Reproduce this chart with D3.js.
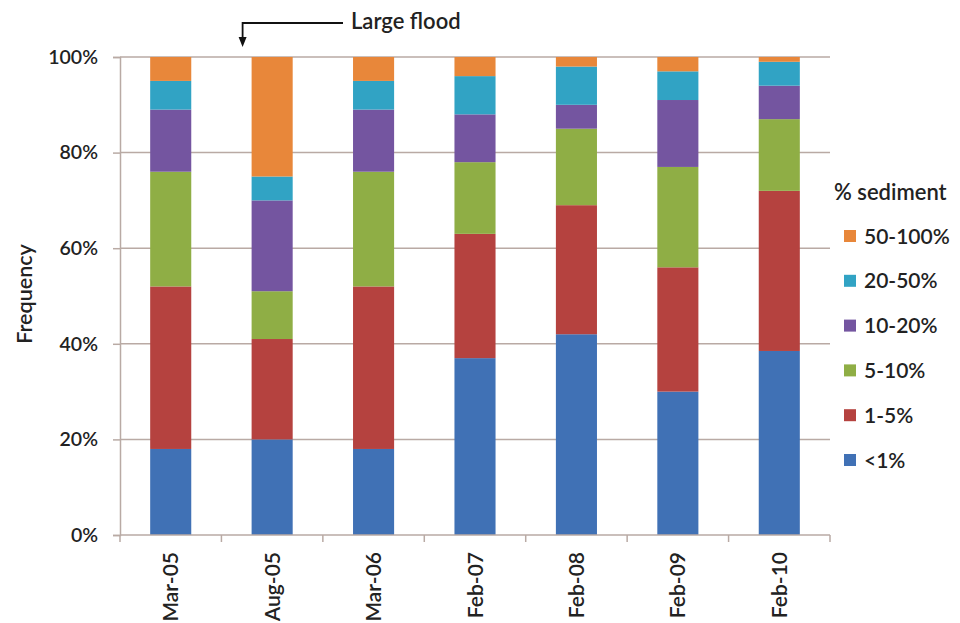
<!DOCTYPE html>
<html>
<head>
<meta charset="utf-8">
<script src="https://cdn.jsdelivr.net/npm/d3@7"></script>
<style>
  html, body { margin: 0; padding: 0; background: #fff; }
  svg { display: block; }
  text { font-family: Lato, "Open Sans", sans-serif; fill: #222; }
</style>
</head>
<body>
<svg id="chart" width="960" height="623"></svg>
<script>
// ---- Data ----
const categories = ["Mar-05", "Aug-05", "Mar-06", "Feb-07", "Feb-08", "Feb-09", "Feb-10"];
const seriesNames = ["<1%", "1-5%", "5-10%", "10-20%", "20-50%", "50-100%"];
const lt1      = [18, 20, 18, 37, 42, 30, 38.5];
const p1to5    = [34, 21, 34, 26, 27, 26, 33.5];
const p5to10   = [24, 10, 24, 15, 16, 21, 15];
const p10to20  = [13, 19, 13, 10, 5, 14, 7];
const p20to50  = [6, 5, 6, 8, 8, 6, 5];
const p50to100 = [5, 25, 5, 4, 2, 3, 1];
const seriesValues = [lt1, p1to5, p5to10, p10to20, p20to50, p50to100];
const seriesColors = ["#4071B5", "#B5423F", "#8FAE45", "#7455A0", "#31A3C4", "#E8873A"];
const yTicks = [0, 20, 40, 60, 80, 100];
const legendTitle = "% sediment";
const yTitle = "Frequency";
const annotation = "Large flood";

// ---- Layout ----
const svg = d3.select("#chart");
const pLeft = 120, pRight = 830, pTop = 57, pBottom = 535;

const x = d3.scaleBand().domain(categories).range([pLeft, pRight]).paddingInner(0.595).paddingOuter(0.2975);
const y = d3.scaleLinear().domain([0, 100]).range([pBottom, pTop]);

// Build table for stack
const table = categories.map((c, i) => {
  const row = { cat: c };
  seriesNames.forEach((s, j) => row[s] = seriesValues[j][i]);
  return row;
});
const stacked = d3.stack().keys(seriesNames)(table);

// gridlines
svg.append("g").selectAll("line").data(yTicks.filter(t => t > 0)).join("line")
  .attr("x1", pLeft).attr("x2", pRight)
  .attr("y1", d => y(d)).attr("y2", d => y(d))
  .attr("stroke", "#B9AAA4").attr("stroke-width", 1.5);

// bars
const color = d3.scaleOrdinal().domain(seriesNames).range(seriesColors);
svg.append("g").selectAll("g").data(stacked).join("g")
  .attr("fill", d => color(d.key))
  .selectAll("rect").data(d => d).join("rect")
  .attr("x", d => x(d.data.cat))
  .attr("width", x.bandwidth())
  .attr("y", d => y(d[1]))
  .attr("height", d => y(d[0]) - y(d[1]));

// y axis
const yAxis = d3.axisLeft(y).tickValues(yTicks).tickFormat(d => d + "%").tickSize(7).tickPadding(15);
const gy = svg.append("g").attr("transform", `translate(${pLeft},0)`).call(yAxis);
gy.select(".domain").attr("stroke", "#B9AAA4").attr("stroke-width", 1.5);
gy.selectAll(".tick line").attr("stroke", "#B9AAA4").attr("stroke-width", 1.5);
gy.selectAll(".tick text").style("font-size", "19.5px").style("font-weight", "600").attr("fill", "#222");

// x axis
const gx = svg.append("g").attr("transform", `translate(0,${pBottom})`);
gx.append("line").attr("x1", pLeft).attr("x2", pRight).attr("y1", 0).attr("y2", 0)
  .attr("stroke", "#B9AAA4").attr("stroke-width", 1.5);
const boundaries = d3.range(categories.length + 1).map(i => pLeft + i * (pRight - pLeft) / categories.length);
gx.selectAll("line.tk").data(boundaries).join("line").attr("class", "tk")
  .attr("x1", d => d).attr("x2", d => d).attr("y1", 0).attr("y2", 7)
  .attr("stroke", "#B9AAA4").attr("stroke-width", 1.5);
gx.selectAll("text").data(categories).join("text")
  .attr("transform", d => `translate(${x(d) + x.bandwidth() / 2 + 7.5},${17}) rotate(-90)`)
  .attr("text-anchor", "end")
  .style("font-size", "21px").style("font-weight", "600")
  .text(d => d);

// y title
svg.append("text")
  .attr("transform", `translate(32,294) rotate(-90)`)
  .attr("text-anchor", "middle")
  .style("font-size", "21.5px").style("font-weight", "600")
  .text(yTitle);

// legend
const lg = svg.append("g");
lg.append("text").attr("x", 834).attr("y", 200)
  .style("font-size", "22px").style("font-weight", "600").text(legendTitle);
const legendOrder = seriesNames.slice().reverse();
const li = lg.selectAll("g.item").data(legendOrder).join("g").attr("class", "item")
  .attr("transform", (d, i) => `translate(844,${236 + i * 44.8})`);
li.append("rect").attr("x", 0).attr("y", -6).attr("width", 12).attr("height", 12)
  .attr("fill", d => color(d));
li.append("text").attr("x", 20).attr("y", 7.5)
  .style("font-size", "21px").style("font-weight", "600").text(d => d);

// annotation
const ax = x("Aug-05") - 9;
svg.append("path")
  .attr("d", `M343,23 L${ax},23 L${ax},40`)
  .attr("fill", "none").attr("stroke", "#111").attr("stroke-width", 1.8);
svg.append("path")
  .attr("d", `M${ax - 4},37 L${ax + 4},37 L${ax},47 Z`).attr("fill", "#111");
svg.append("text").attr("x", 351).attr("y", 29)
  .style("font-size", "22px").style("font-weight", "600").text(annotation);
</script>
</body>
</html>
